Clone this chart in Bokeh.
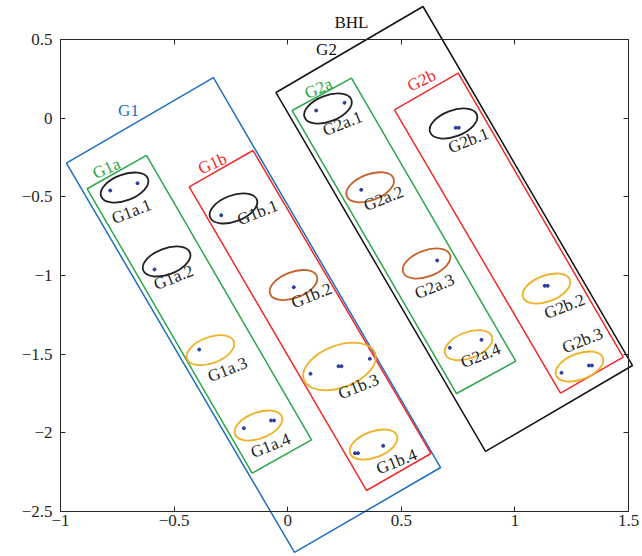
from bokeh.plotting import figure
from bokeh.models import Range1d, LinearAxis, FixedTicker, ColumnDataSource
from bokeh.core.properties import value
from bokeh.embed import file_html
from bokeh.resources import INLINE

# ---------------- data ----------------
x_ticks = [-1, -0.5, 0, 0.5, 1, 1.5]
x_tick_labels = ["−1", "−0.5", "0", "0.5", "1", "1.5"]
y_ticks = [0.5, 0, -0.5, -1, -1.5, -2, -2.5]
y_tick_labels = ["0.5", "0", "−0.5", "−1", "−1.5", "−2", "−2.5"]

# group boxes (corner coordinates in data units)
box_names = ["G1", "G1a", "G1b", "BHL", "G2a", "G2b"]
box_xs = [
    [-0.974, -0.327, 0.673, 0.030],
    [-0.8825, -0.6215, 0.1048, -0.1563],
    [-0.4335, -0.1527, 0.6307, 0.3468],
    [-0.0515, 0.5955, 1.5176, 0.8706],
    [0.0198, 0.2808, 1.004, 0.743],
    [0.470, 0.7504, 1.4767, 1.2007],
]
box_ys = [
    [-0.286, 0.258, -2.221, -2.761],
    [-0.449, -0.237, -2.0455, -2.257],
    [-0.4364, -0.2057, -2.132, -2.367],
    [0.163, 0.7098, -1.5725, -2.119],
    [0.0486, 0.254, -1.545, -1.7505],
    [0.053, 0.2858, -1.5197, -1.7486],
]

# group labels
glabel_text = ["G1", "G1a", "G1b", "G2a", "G2b", "BHL", "G2"]
glabel_x = [-0.7007, -0.7975, -0.331, 0.1356, 0.589, 0.2808, 0.1708]
glabel_y = [0.0486, -0.32, -0.288, 0.1885, 0.2394, 0.608, 0.4364]

# clusters (ellipses)
cl_names = ["G1a.1", "G1a.2", "G1a.3", "G1a.4", "G1b.1", "G1b.2", "G1b.3", "G1b.4",
            "G2a.1", "G2a.2", "G2a.3", "G2a.4", "G2b.1", "G2b.2", "G2b.3"]
cl_class = ["A", "A", "C", "C", "A", "B", "C", "C",
            "A", "B", "B", "C", "A", "C", "C"]
cl_x = [-0.718, -0.533, -0.340, -0.1285, -0.2386, 0.0255, 0.228, 0.378,
        0.1774, 0.3631, 0.611, 0.7958, 0.7298, 1.139, 1.2843]
cl_y = [-0.441, -0.911, -1.475, -1.954, -0.574, -1.061, -1.579, -2.075,
        0.0613, -0.4396, -0.924, -1.4434, -0.034, -1.083, -1.579]
cl_label_x = [-0.6875, -0.5026, -0.265, -0.0757, -0.133, 0.1048, 0.3116, 0.479,
              0.2412, 0.4217, 0.646, 0.8486, 0.7958, 1.2183, 1.2975]
cl_label_y = [-0.5935, -1.013, -1.598, -2.081, -0.5998, -1.1275, -1.706, -2.183,
              -0.034, -0.5108, -1.070, -1.509, -0.142, -1.197, -1.4135]

# sample points
pt_x = [-0.781, -0.661, -0.5863, -0.2927, 0.0268, -0.3895, -0.193, -0.0735, -0.0603,
        0.1004, 0.2236, 0.2368, 0.3614, 0.2962, 0.3094, 0.4203,
        0.1254, 0.25, 0.3235, 0.658, 0.7135, 0.853,
        0.7394, 0.7526, 1.1312, 1.1444, 1.205, 1.3261, 1.3393]
pt_y = [-0.46, -0.4135, -0.962, -0.617, -1.0747, -1.471, -1.971, -1.922, -1.922,
        -1.625, -1.577, -1.577, -1.53, -2.13, -2.13, -2.083,
        0.0486, 0.0976, -0.4555, -0.905, -1.46, -1.409,
        -0.0613, -0.0613, -1.066, -1.066, -1.619, -1.5725, -1.5725]

# ---------------- styles ----------------
FONT = "Liberation Serif"
AX = "#262626"
box_color = {"G1": "#1f6fc0", "G1a": "#2ca64a", "G1b": "#f02a2a",
             "BHL": "#111111", "G2a": "#2ca64a", "G2b": "#f02a2a"}
glabel_color = {"G1": "#1f6fc0", "G1a": "#2ca64a", "G1b": "#f02a2a",
                "G2a": "#2ca64a", "G2b": "#f02a2a", "BHL": "#111111", "G2": "#111111"}
glabel_angle = {"G1": 0, "G1a": 0.42, "G1b": 0.42, "G2a": 0.42, "G2b": 0.45, "BHL": 0, "G2": 0}
class_color = {"A": "#222222", "B": "#c4622c", "C": "#efb128"}
big_ellipse = {"G1b.3": (76, 42)}

XPX = 227.2   # px per unit
YPX = 157.3
W, H = 640, 554
x0 = -1 - 60 / XPX
y1 = 0.5 + 39 / YPX
p = figure(width=W, height=H,
           x_range=Range1d(x0, x0 + W / XPX), y_range=Range1d(y1 - H / YPX, y1),
           output_backend="svg", toolbar_location=None,
           x_axis_type=None, y_axis_type=None, min_border=0,
           outline_line_color=None, background_fill_color="white")
p.grid.visible = False

# boxes
p.patches(xs=box_xs, ys=box_ys, fill_color=None,
          line_color=[box_color[n] for n in box_names], line_width=1.5)

# ellipses
ew = [big_ellipse.get(n, (50, 26))[0] for n in cl_names]
eh = [big_ellipse.get(n, (50, 26))[1] for n in cl_names]
esrc = ColumnDataSource(dict(x=cl_x, y=cl_y, w=ew, h=eh,
                             c=[class_color[k] for k in cl_class]))
p.ellipse(x="x", y="y", width="w", height="h", width_units="screen",
          height_units="screen", angle=0.36, fill_color=None,
          line_color="c", line_width=1.8, source=esrc)

# points
p.scatter(pt_x, pt_y, size=3, color="#2b3d9c")

# cluster labels
p.text(x=cl_label_x, y=cl_label_y, text=cl_names, angle=0.38,
       text_font=value(FONT), text_font_size="17px", text_color="#222222",
       text_align="center", text_baseline="middle")

# group labels
p.text(x=glabel_x, y=glabel_y, text=glabel_text,
       angle=[glabel_angle[n] for n in glabel_text],
       text_font=value(FONT), text_font_size="17px",
       text_color=[glabel_color[n] for n in glabel_text],
       text_align="center", text_baseline="middle")

# axes (box style)
def mk_axis(loc, bounds, ticks, labels, show):
    ax = LinearAxis(fixed_location=loc, bounds=bounds,
                    ticker=FixedTicker(ticks=ticks, minor_ticks=[]))
    ax.major_label_overrides = {t: (l if show else "") for t, l in zip(ticks, labels)}
    ax.axis_line_color = AX
    ax.axis_line_width = 1
    ax.major_tick_line_color = AX
    ax.major_tick_in = 5
    ax.major_tick_out = 0
    ax.minor_tick_line_color = None
    ax.major_label_text_font = FONT
    ax.major_label_text_font_size = "17px"
    ax.major_label_text_color = AX
    return ax

bx = mk_axis(-2.5, (-1, 1.5), x_ticks, x_tick_labels, True)
bx.major_label_standoff = 4
p.add_layout(bx, "below")
tx = mk_axis(0.5, (-1, 1.5), x_ticks, x_tick_labels, False)
p.add_layout(tx, "above")
ly = mk_axis(-1, (-2.5, 0.5), y_ticks, y_tick_labels, True)
ly.major_label_standoff = 8
p.add_layout(ly, "left")
ry = mk_axis(1.5, (-2.5, 0.5), y_ticks, y_tick_labels, False)
p.add_layout(ry, "right")

open("out.html", "w").write(file_html(p, INLINE))
